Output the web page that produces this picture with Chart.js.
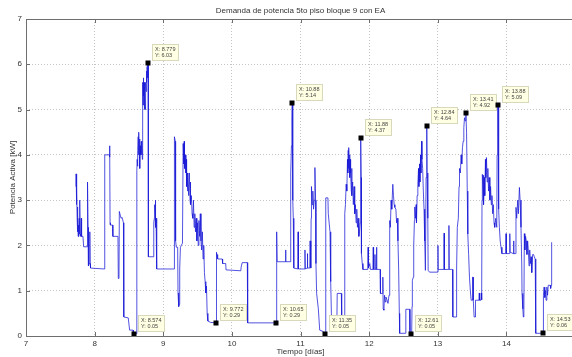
<!DOCTYPE html>
<html>
<head>
<meta charset="utf-8">
<script src="https://cdn.jsdelivr.net/npm/chart.js@4"></script>
<style>
  html, body { margin: 0; padding: 0; background: #fff; overflow: hidden; }
  #wrap { width: 572px; height: 357px; overflow: hidden; }
</style>
</head>
<body>
<div id="wrap"><canvas id="chart" width="580" height="357"></canvas></div>
<script>
// Active power samples: time [days] and demand [kW]
const days = [
  7.728, 7.730, 7.733, 7.736, 7.739, 7.742, 7.745, 7.748, 7.752, 7.756, 7.760, 7.765, 7.770, 7.775, 7.780, 7.786,
  7.790, 7.800, 7.805, 7.810, 7.830, 7.840, 7.890, 7.893, 7.900, 7.905, 7.910, 7.920, 7.930, 7.935, 7.940, 8.140,
  8.145, 8.147, 8.150, 8.215, 8.218, 8.222, 8.225, 8.230, 8.262, 8.266, 8.340, 8.345, 8.355, 8.360, 8.385, 8.400,
  8.420, 8.425, 8.490, 8.510, 8.560, 8.565, 8.574,
  8.612, 8.615, 8.620, 8.625, 8.630, 8.635, 8.640, 8.645, 8.650, 8.655, 8.660, 8.665, 8.670, 8.680, 8.685, 8.690,
  8.695, 8.700, 8.705, 8.710, 8.715, 8.720, 8.725, 8.730, 8.735, 8.740, 8.745, 8.750, 8.755, 8.760, 8.765, 8.770,
  8.775, 8.779, 8.782, 8.785, 8.860, 8.862, 8.870, 8.875, 8.880, 8.885, 8.890, 8.895, 8.900, 8.905, 8.908, 9.160,
  9.162, 9.164, 9.175, 9.180, 9.190, 9.210, 9.215, 9.225, 9.235, 9.240, 9.250, 9.280, 9.290, 9.300, 9.305, 9.310,
  9.320, 9.330, 9.335, 9.340, 9.350, 9.355, 9.360, 9.370, 9.380, 9.390, 9.395, 9.400, 9.410, 9.420, 9.430, 9.440,
  9.450, 9.460, 9.470, 9.480, 9.490, 9.500, 9.510, 9.520, 9.530, 9.540, 9.550, 9.560, 9.570, 9.580, 9.590, 9.600,
  9.610, 9.620, 9.630, 9.640, 9.650, 9.690, 9.772,
  9.775, 9.777, 9.785, 9.790, 9.795, 9.860, 9.865, 9.910, 9.915, 10.130, 10.135, 10.145, 10.150, 10.225, 10.230, 10.650,
  10.652, 10.654, 10.660, 10.780, 10.783, 10.787, 10.850, 10.855, 10.860, 10.868, 10.875, 10.880, 10.885, 10.890, 10.895, 10.900,
  10.905, 10.960, 10.965, 10.970, 11.060, 11.065, 11.070, 11.095, 11.100, 11.105, 11.135, 11.140, 11.150, 11.155, 11.160, 11.170,
  11.180, 11.190, 11.200, 11.210, 11.220, 11.225, 11.235, 11.260, 11.280, 11.330, 11.350,
  11.365, 11.368, 11.400, 11.405, 11.430, 11.440, 11.450, 11.460, 11.470, 11.530, 11.535, 11.595, 11.600, 11.640, 11.645, 11.655,
  11.665, 11.675, 11.685, 11.690, 11.695, 11.700, 11.705, 11.710, 11.715, 11.720, 11.725, 11.730, 11.740, 11.745, 11.750, 11.760,
  11.770, 11.780, 11.790, 11.800, 11.810, 11.820, 11.830, 11.840, 11.850, 11.860, 11.870, 11.875, 11.880, 11.885, 11.888, 11.900,
  11.910, 11.980, 11.985, 11.990, 12.010, 12.020, 12.055, 12.060, 12.065, 12.080, 12.085, 12.090, 12.105, 12.108, 12.112, 12.150,
  12.160, 12.165, 12.190, 12.200, 12.205, 12.215, 12.225, 12.235, 12.245, 12.260, 12.275, 12.290, 12.300, 12.310, 12.320, 12.330,
  12.345, 12.355, 12.365, 12.375, 12.390, 12.400, 12.410, 12.420, 12.430, 12.440, 12.445, 12.530, 12.535, 12.590, 12.595, 12.610,
  12.620, 12.625, 12.630, 12.645, 12.650, 12.660, 12.665, 12.675, 12.685, 12.690, 12.700, 12.710, 12.720, 12.725, 12.735, 12.740,
  12.750, 12.755, 12.765, 12.770, 12.780, 12.790, 12.800, 12.810, 12.820, 12.830, 12.840, 12.845, 12.855, 12.860, 12.880, 13.000,
  13.003, 13.006, 13.030, 13.090, 13.093, 13.097, 13.160, 13.163, 13.167, 13.200,
  13.215, 13.220, 13.270, 13.275, 13.285, 13.300, 13.310, 13.317, 13.330, 13.340, 13.350, 13.360, 13.370, 13.380, 13.390, 13.400,
  13.410, 13.420, 13.430, 13.438, 13.450, 13.462, 13.475, 13.487, 13.505, 13.508, 13.514, 13.518, 13.530, 13.545, 13.550, 13.600,
  13.605, 13.610, 13.630, 13.635, 13.640, 13.645, 13.650, 13.660, 13.665, 13.670, 13.680, 13.685, 13.695, 13.700, 13.710, 13.720,
  13.730, 13.740, 13.750, 13.760, 13.770, 13.780, 13.790, 13.800, 13.810, 13.820, 13.830, 13.845, 13.860, 13.865, 13.873, 13.880,
  13.885, 13.890, 13.898, 13.910, 13.922, 13.935, 13.990, 13.995, 14.000, 14.045, 14.050, 14.055, 14.100, 14.105, 14.110, 14.135,
  14.140, 14.150, 14.165, 14.175, 14.190, 14.200, 14.213, 14.225, 14.228, 14.240, 14.247, 14.255, 14.262, 14.270, 14.280, 14.290,
  14.300, 14.310, 14.320, 14.330, 14.340, 14.350, 14.360, 14.370, 14.383, 14.395, 14.407, 14.420, 14.425, 14.431, 14.530,
  14.535, 14.540, 14.550, 14.560, 14.570, 14.578, 14.590, 14.600, 14.610, 14.640, 14.645, 14.655, 14.660
];
const kw = [
  3.30, 3.58, 2.95, 3.45, 2.90, 3.25, 2.60, 2.85, 2.30, 2.70, 2.20, 2.45, 2.20, 2.60, 2.25, 3.00,
  2.25, 2.20, 2.60, 2.20, 2.20, 1.97, 1.97, 2.85, 3.40, 2.40, 1.55, 1.60, 2.30, 1.60, 1.50, 1.48,
  1.48, 3.90, 4.00, 4.00, 4.20, 3.95, 2.50, 2.45, 2.45, 2.20, 2.20, 1.27, 1.30, 2.75, 2.60, 2.62,
  2.50, 0.42, 0.40, 0.13, 0.13, 0.05, 0.05,
  0.05, 3.65, 3.90, 3.75, 4.10, 4.40, 4.00, 4.50, 4.10, 4.35, 3.70, 4.20, 4.00, 4.30, 4.00, 4.20,
  3.90, 5.60, 5.10, 5.70, 5.30, 5.60, 5.00, 5.40, 5.10, 5.00, 5.60, 5.40, 5.85, 5.60, 5.95, 5.70,
  6.00, 6.03, 5.50, 1.75, 1.75, 2.50, 2.60, 2.90, 2.70, 3.00, 2.40, 2.60, 2.10, 2.20, 1.48, 1.48,
  1.48, 4.40, 4.30, 2.10, 1.96, 1.96, 0.95, 0.65, 0.70, 1.50, 1.96, 2.05, 4.25, 3.80, 4.30, 3.70,
  4.00, 3.60, 3.90, 3.30, 3.60, 3.20, 3.55, 3.10, 3.60, 3.00, 3.40, 2.90, 3.10, 2.70, 2.60, 3.00,
  2.40, 2.70, 2.30, 2.60, 2.10, 2.50, 2.00, 2.55, 2.20, 2.70, 2.10, 1.90, 2.30, 1.70, 2.00, 1.40,
  1.20, 0.95, 1.10, 0.50, 0.33, 0.30, 0.29,
  0.29, 1.85, 1.72, 1.80, 1.70, 1.70, 1.60, 1.60, 1.46, 1.44, 1.52, 1.52, 1.62, 1.62, 0.29, 0.29,
  0.29, 2.30, 1.64, 1.64, 1.90, 1.64, 1.64, 2.50, 3.60, 4.20, 4.80, 5.14, 4.20, 3.00, 2.60, 1.90,
  1.50, 1.48, 2.30, 1.48, 1.48, 1.90, 1.48, 1.50, 1.82, 1.50, 1.50, 2.10, 1.50, 2.60, 3.30, 2.90,
  3.20, 2.80, 3.00, 3.72, 3.00, 1.60, 0.94, 0.60, 0.13, 0.10, 0.05,
  0.05, 3.05, 3.05, 2.70, 2.30, 1.20, 0.50, 0.22, 0.28, 0.28, 0.94, 0.94, 0.42, 0.42, 2.70, 2.90,
  3.35, 3.20, 3.90, 3.60, 4.10, 3.70, 4.16, 3.80, 4.00, 3.50, 3.90, 3.60, 3.20, 3.70, 3.10, 3.40,
  2.90, 3.30, 2.70, 2.90, 2.50, 2.80, 2.40, 2.60, 2.20, 2.30, 2.50, 3.80, 4.37, 3.50, 1.82, 1.60,
  1.47, 1.47, 1.96, 1.50, 1.60, 1.47, 1.47, 1.96, 1.47, 1.47, 1.80, 1.47, 1.47, 1.96, 1.47, 1.47,
  1.47, 0.94, 0.94, 1.30, 0.60, 0.57, 0.90, 0.75, 0.86, 0.80, 0.72, 0.90, 2.55, 2.40, 3.00, 2.80,
  3.35, 3.10, 2.90, 2.84, 2.80, 2.50, 2.60, 2.10, 1.50, 0.50, 0.06, 0.06, 0.59, 0.59, 0.05, 0.05,
  0.05, 0.65, 1.23, 1.30, 2.00, 2.55, 2.85, 2.60, 2.90, 2.50, 3.10, 3.35, 3.70, 3.30, 3.80, 3.40,
  4.00, 3.60, 4.30, 3.90, 3.70, 3.20, 2.80, 2.10, 1.45, 3.50, 4.64, 3.60, 2.60, 1.45, 1.41, 1.41,
  2.00, 1.46, 1.47, 1.47, 2.27, 1.47, 1.47, 2.44, 1.47, 1.47,
  1.47, 0.42, 0.42, 1.50, 2.40, 2.60, 3.30, 3.70, 3.60, 4.00, 3.80, 4.16, 4.30, 4.60, 4.82, 4.75,
  4.92, 4.50, 3.20, 2.25, 1.80, 1.30, 1.00, 0.79, 0.79, 1.30, 1.30, 0.79, 0.42, 0.42, 0.79, 0.79,
  0.95, 0.79, 0.79, 0.95, 0.80, 3.00, 3.57, 3.20, 3.55, 2.90, 3.50, 3.10, 3.90, 3.50, 3.94, 3.40,
  3.70, 3.20, 3.50, 3.00, 3.30, 2.90, 3.10, 2.70, 2.90, 2.50, 2.40, 2.60, 2.40, 4.00, 5.09, 5.09,
  4.40, 2.80, 2.40, 2.10, 1.96, 1.82, 1.82, 2.26, 1.82, 1.82, 2.26, 1.85, 1.82, 2.10, 1.82, 1.82,
  2.84, 2.60, 3.00, 2.70, 3.28, 3.00, 2.40, 1.50, 0.94, 0.60, 0.42, 0.50, 2.26, 1.90, 2.20, 2.10,
  1.80, 2.10, 1.90, 1.55, 1.90, 1.60, 1.75, 1.40, 1.80, 1.80, 1.75, 1.70, 0.50, 0.06, 0.06,
  0.06, 0.90, 1.08, 0.85, 1.00, 0.79, 1.08, 0.90, 1.12, 1.12, 1.05, 1.12, 2.07
];

// Data cursor tips placed on the curve
const tipX = [8.779, 10.88, 11.88, 12.84, 13.41, 13.88, 8.574, 9.772, 10.65, 11.35, 12.61, 14.53];
const tipY = [6.03, 5.14, 4.37, 4.64, 4.92, 5.09, 0.05, 0.29, 0.29, 0.05, 0.05, 0.06];

const xTicks = [7, 8, 9, 10, 11, 12, 13, 14, 15];
const yTicks = [0, 1, 2, 3, 4, 5, 6, 7];

const FONT = "'Liberation Sans', Arial, sans-serif";
const fmt = v => String(Number(v.toPrecision(4)));

// Axes box with small inward tick marks
const framePlugin = {
  id: "frame",
  afterDraw(chart) {
    const { ctx, chartArea: a, scales: { x, y } } = chart;
    ctx.save();
    ctx.strokeStyle = "#6e6e6e";
    ctx.lineWidth = 1;
    ctx.strokeRect(Math.round(a.left) + 0.5, Math.round(a.top) + 0.5,
      Math.round(a.right - a.left), Math.round(a.bottom - a.top));
    ctx.beginPath();
    xTicks.forEach(t => {
      const px = Math.round(x.getPixelForValue(t)) + 0.5;
      ctx.moveTo(px, a.bottom); ctx.lineTo(px, a.bottom - 4);
      ctx.moveTo(px, a.top); ctx.lineTo(px, a.top + 4);
    });
    yTicks.forEach(t => {
      const py = Math.round(y.getPixelForValue(t)) + 0.5;
      ctx.moveTo(a.left, py); ctx.lineTo(a.left + 4, py);
    });
    ctx.stroke();
    ctx.restore();
  }
};

// Data tips: black square marker + yellow label box
const tipsPlugin = {
  id: "tips",
  afterDatasetsDraw(chart) {
    const { ctx, scales: { x, y } } = chart;
    ctx.save();
    ctx.font = "5.5px " + FONT;
    ctx.textBaseline = "top";
    tipX.forEach((tx, i) => {
      const px = x.getPixelForValue(tx);
      const py = y.getPixelForValue(tipY[i]);
      const l1 = "X: " + fmt(tx);
      const l2 = "Y: " + fmt(tipY[i]);
      const w = Math.ceil(Math.max(ctx.measureText(l1).width, ctx.measureText(l2).width)) + 5;
      const h = 16;
      const bx = Math.round(px + 4) + 0.5;
      const by = Math.round(py - 3 - h) + 0.5;
      ctx.fillStyle = "#ffffe3";
      ctx.strokeStyle = "#d8d8bc";
      ctx.lineWidth = 1;
      ctx.fillRect(bx, by, w, h);
      ctx.strokeRect(bx, by, w, h);
      ctx.fillStyle = "#444";
      ctx.fillText(l1, bx + 2.5, by + 2);
      ctx.fillText(l2, bx + 2.5, by + 8.5);
      ctx.fillStyle = "#000";
      ctx.fillRect(Math.round(px) - 2.5, Math.round(py) - 2.5, 5, 5);
    });
    ctx.restore();
  }
};

new Chart(document.getElementById("chart"), {
  type: "line",
  data: {
    datasets: [{
      data: days.map((d, i) => ({ x: d, y: kw[i] })),
      borderColor: "rgba(25, 25, 215, 0.75)",
      borderWidth: 1,
      pointRadius: 0,
      tension: 0,
      fill: false
    }]
  },
  options: {
    responsive: false,
    animation: false,
    events: [],
    layout: { padding: { left: 0, right: 5, top: 0, bottom: 0 } },
    plugins: {
      legend: { display: false },
      tooltip: { enabled: false },
      title: {
        display: true,
        fullSize: false,
        text: "Demanda de potencia 5to piso bloque 9 con EA",
        color: "#333",
        font: { family: FONT, size: 8, weight: "normal", lineHeight: 1 },
        padding: { top: 7, bottom: 4 }
      }
    },
    scales: {
      x: {
        type: "linear",
        min: 7,
        max: 15,
        afterBuildTicks: s => { s.ticks = xTicks.map(v => ({ value: v })); },
        afterFit: s => { s.height = 21; },
        grid: { color: "#c4c4c4", drawTicks: false },
        border: { display: false, dash: [1, 2] },
        ticks: {
          color: "#333",
          font: { family: FONT, size: 8 },
          padding: 3,
          maxRotation: 0,
          callback: v => (v < 15 ? String(v) : "")
        },
        title: {
          display: true,
          text: "Tiempo [días]",
          color: "#333",
          font: { family: FONT, size: 8 },
          padding: { top: 0, bottom: 0 }
        }
      },
      y: {
        min: 0,
        max: 7,
        afterBuildTicks: s => { s.ticks = yTicks.map(v => ({ value: v })); },
        afterFit: s => { s.width = 26; },
        grid: { color: "#c4c4c4", drawTicks: false },
        border: { display: false, dash: [1, 2] },
        ticks: { color: "#333", font: { family: FONT, size: 8 }, padding: 4 },
        title: {
          display: true,
          text: "Potencia Activa [kW]",
          color: "#333",
          font: { family: FONT, size: 8 },
          padding: { top: 8, bottom: 0 }
        }
      }
    }
  },
  plugins: [framePlugin, tipsPlugin]
});
</script>
</body>
</html>
